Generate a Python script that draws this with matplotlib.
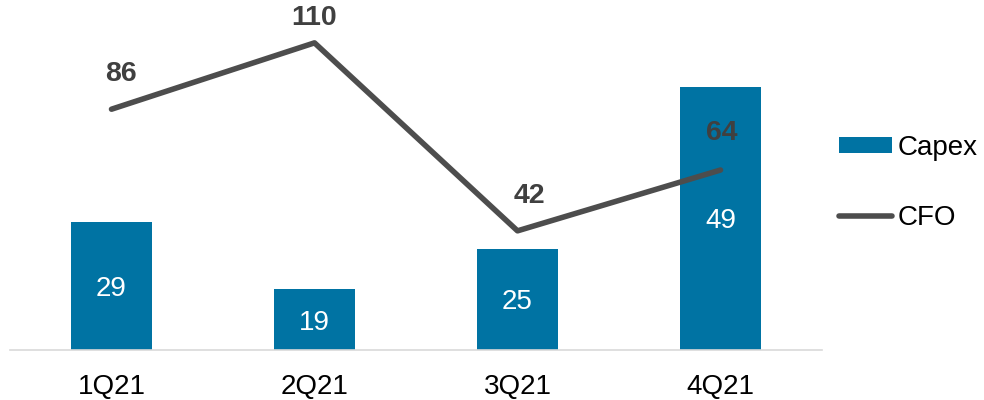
import matplotlib.pyplot as plt

plt.rcParams['font.family'] = ['Liberation Sans', 'DejaVu Sans']

quarters = ['1Q21', '2Q21', '3Q21', '4Q21']
capex = [29, 19, 25, 49]
cfo = [86, 110, 42, 64]

# label nudges for the CFO values, in pixels (dx, dy up)
cfo_offsets = [(9, 35), (0, 25), (12, 35), (1, 37)]

bar_color = '#0073a3'
line_color = '#4d4d4d'

fig = plt.figure(figsize=(9.84, 4.0), dpi=100)
ax = fig.add_axes([10 / 984, 50 / 400, 812 / 984, 350 / 400])
ax2 = ax.twinx()

x = range(len(quarters))
bars = ax.bar(x, capex, width=0.4, color=bar_color, label='Capex')
ax.set_ylim(10, 61.85)
ax.set_xlim(-0.5, 3.5)

for xi, v in zip(x, capex):
    ax.text(xi, 10 + (v - 10) / 2, str(v), color='white', fontsize=20,
            ha='center', va='center_baseline')

line, = ax2.plot(x, cfo, color=line_color, linewidth=4, solid_capstyle='round',
                 label='CFO')
ax2.set_ylim(-1.1, 125.5)
for xi, v, (dx, dy) in zip(x, cfo, cfo_offsets):
    ax2.annotate(str(v), (xi, v), xytext=(dx * 0.72, dy * 0.72),
                 textcoords='offset points', ha='center', va='center',
                 fontsize=20.5, fontweight='bold', color='#404040')

for a in (ax, ax2):
    for s in ('top', 'right', 'left'):
        a.spines[s].set_visible(False)
    a.set_yticks([])
ax2.spines['bottom'].set_visible(False)
ax.spines['bottom'].set_color('#d9d9d9')
ax.spines['bottom'].set_linewidth(1.2)

ax.set_xticks(list(x))
ax.set_xticklabels(quarters, fontsize=20)
ax.tick_params(axis='x', length=0, pad=17)

fig.legend([bars, line], ['Capex', 'CFO'], loc='center left',
           bbox_to_anchor=(814 / 984, 1 - 183 / 400), frameon=False,
           fontsize=20, handlelength=1.9, handletextpad=0.2, labelspacing=1.6,
           handleheight=0.55)

fig.savefig('out.png', dpi=100)
